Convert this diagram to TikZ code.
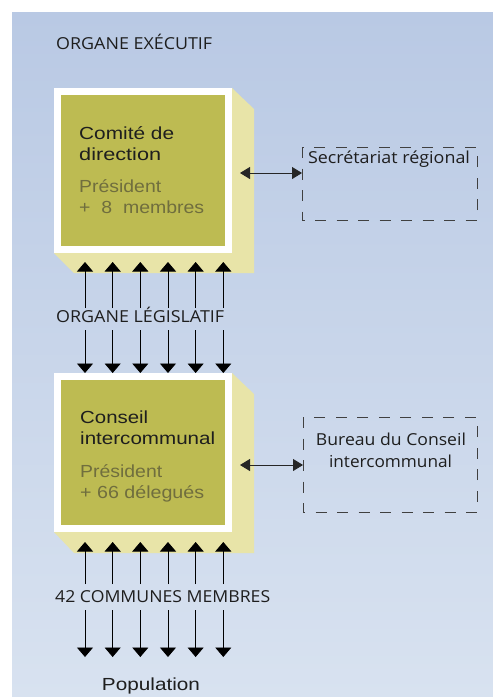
\documentclass[tikz,border=0pt]{standalone}
\usepackage{fontspec}
\usepackage{graphicx}
\usetikzlibrary{arrows.meta}
\newfontfamily\boxfont{Liberation Sans}
\newfontfamily\labfont{Open Sans}
\newcommand{\fw}[2]{\resizebox{#1}{\height}{#2}}
\definecolor{bgtop}{RGB}{185,201,228}
\definecolor{bgbot}{RGB}{216,226,240}
\definecolor{olive}{RGB}{189,187,82}
\definecolor{paleside}{RGB}{232,228,168}
\definecolor{subtxt}{RGB}{112,110,62}
\definecolor{ink}{RGB}{30,30,30}
\tikzset{
  txt/.style={inner sep=0pt, anchor=base west, text=ink},
  boxtitle/.style={txt, font=\boxfont\fontsize{17.5}{21}\selectfont},
  boxsub/.style={txt, font=\boxfont\fontsize{17.5}{21}\selectfont, text=subtxt},
  lab/.style={txt, font=\labfont\fontsize{16.5}{20}\selectfont},
  vlink/.style={line width=0.9pt, draw=black, -{Triangle[width=16pt,length=9.5pt]}},
  hlink/.style={line width=0.9pt, draw=black!85, {Triangle[width=12pt,length=10pt]}-{Triangle[width=12pt,length=10pt]}},
  dashbox/.style={draw=black!75, line width=0.9pt, dash pattern=on 11pt off 10.5pt},
}
\begin{document}
\begin{tikzpicture}[x=1pt,y=-1pt]
\useasboundingbox (0,0) rectangle (493,697);
\fill[white] (0,0) rectangle (493,697);
\shade[top color=bgtop, bottom color=bgbot] (12,12) rectangle (493,697);

\node[lab] (exec) at (56,49) {\fw{156pt}{ORGANE EXÉCUTIF}};

% top box
\fill[paleside] (232,88) -- (254,109) -- (254,273) -- (74,273) -- (54,253) -- cycle;
\fill[white] (54,88) rectangle (232,253);
\fill[olive] (61,95) rectangle (225,246);
\node[boxtitle] (c1) at (79,139) {\fw{95pt}{Comité de}};
\node[boxtitle] (c2) at (79,160) {\fw{82pt}{direction}};
\node[boxsub] (c3) at (79,192) {\fw{82pt}{Président}};
\node[boxsub] (c4) at (79,213) {\fw{125pt}{+\ \ 8\ \ membres}};

% secretariat
\draw[dashbox] (302,147) rectangle (477,220);
\node[lab, anchor=base] (sec) at (389,163) {\fw{162pt}{Secrétariat régional}};
\coordinate (h1a) at (240,173);
\coordinate (h1b) at (302,173);
\draw[hlink] (h1a) -- (h1b);

% legislative
\node[lab] (leg) at (56,322) {\fw{168pt}{ORGANE LÉGISLATIF}};
\foreach \i in {0,...,5} {
  \pgfmathsetmacro\xx{85+27.66*\i}
  \coordinate (ua\i) at (\xx,308);
  \coordinate (ub\i) at (\xx,262);
  \draw[vlink] (ua\i) -- (ub\i);
  \coordinate (da\i) at (\xx,330);
  \coordinate (db\i) at (\xx,373);
  \draw[vlink] (da\i) -- (db\i);
}

% bottom box
\fill[paleside] (232,373) -- (254,394) -- (254,553) -- (74,553) -- (54,532) -- cycle;
\fill[white] (54,373) rectangle (232,532);
\fill[olive] (61,380) rectangle (225,525);
\node[boxtitle] (k1) at (80,423) {\fw{68pt}{Conseil}};
\node[boxtitle] (k2) at (80,444) {\fw{135pt}{intercommunal}};
\node[boxsub] (k3) at (80,477) {\fw{82pt}{Président}};
\node[boxsub] (k4) at (80,498) {\fw{124pt}{+ 66 délegués}};

% bureau
\draw[dashbox] (303,417) rectangle (477,512);
\node[lab, anchor=base] (bur1) at (391,445) {\fw{150pt}{Bureau du Conseil}};
\node[lab, anchor=base] (bur2) at (390.5,467) {\fw{123pt}{intercommunal}};
\coordinate (h2a) at (240,465);
\coordinate (h2b) at (303,465);
\draw[hlink] (h2a) -- (h2b);

% communes
\node[lab] (com) at (55,602) {\fw{215pt}{42 COMMUNES MEMBRES}};
\foreach \i in {0,...,5} {
  \pgfmathsetmacro\xx{85+27.66*\i}
  \coordinate (pa\i) at (\xx,584);
  \coordinate (pb\i) at (\xx,542);
  \draw[vlink] (pa\i) -- (pb\i);
  \coordinate (qa\i) at (\xx,610);
  \coordinate (qb\i) at (\xx,657);
  \draw[vlink] (qa\i) -- (qb\i);
}
\node[boxtitle, anchor=base] (pop) at (151,690) {\fw{98pt}{Population}};
\end{tikzpicture}
\end{document}
